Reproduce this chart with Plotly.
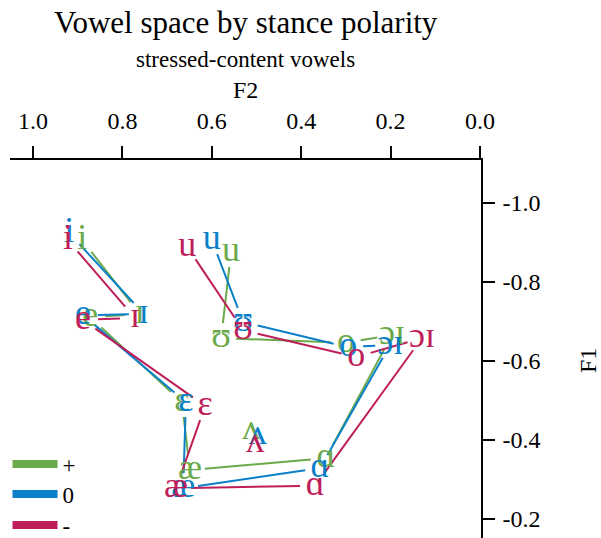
import math
import plotly.graph_objects as go

# Vowel labels and the order in which the outline connects them (ʌ stays unconnected)
vowels = ["i", "ɪ", "e", "ɛ", "æ", "ɑ", "ɔɪ", "o", "ʊ", "u", "ʌ"]
outline = ["i", "ɪ", "e", "ɛ", "æ", "ɑ", "ɔɪ", "o", "ʊ", "u"]

# Normalised formant means per stance polarity
plus_f2 = [0.890, 0.761, 0.872, 0.667, 0.649, 0.345, 0.197, 0.300, 0.579, 0.557, 0.512]
plus_f1 = [-0.906, -0.719, -0.711, -0.496, -0.324, -0.354, -0.666, -0.646, -0.658, -0.876, -0.425]

zero_f2 = [0.919, 0.752, 0.888, 0.658, 0.664, 0.358, 0.201, 0.295, 0.530, 0.600, 0.497]
zero_f1 = [-0.924, -0.719, -0.716, -0.496, -0.278, -0.329, -0.641, -0.635, -0.699, -0.906, -0.413]

minus_f2 = [0.922, 0.772, 0.888, 0.615, 0.680, 0.369, 0.130, 0.277, 0.530, 0.655, 0.503]
minus_f1 = [-0.906, -0.709, -0.704, -0.486, -0.278, -0.284, -0.658, -0.610, -0.678, -0.889, -0.392]

groups = [
    ("+", plus_f2, plus_f1, "#6BAA4B"),
    ("0", zero_f2, zero_f1, "#0A80C8"),
    ("-", minus_f2, minus_f1, "#BE1E5A"),
]

x_ticks = [1.0, 0.8, 0.6, 0.4, 0.2, 0.0]
y_ticks = [-1.0, -0.8, -0.6, -0.4, -0.2]

W, H = 601, 538
M_L, M_R, M_T, M_B = 10, 120, 160, 0
X_RANGE = [1.0515, -0.0022]
Y_RANGE = [-0.1519, -1.1089]
FONT = "Liberation Serif, Times New Roman, serif"

plot_w = W - M_L - M_R
plot_h = H - M_T - M_B
px_x = plot_w / abs(X_RANGE[0] - X_RANGE[1])
px_y = plot_h / abs(Y_RANGE[0] - Y_RANGE[1])
GAP = 15  # pixels left clear around each label


def py(pix):
    return (H - M_B - pix) / plot_h


def px(pix):
    return (pix - M_L) / plot_w


def outline_segments(f2, f1):
    pos = {v: (a, b) for v, a, b in zip(vowels, f2, f1)}
    xs, ys = [], []
    for a, b in zip(outline[:-1], outline[1:]):
        (x0, y0), (x1, y1) = pos[a], pos[b]
        length = math.hypot((x1 - x0) * px_x, (y1 - y0) * px_y)
        t = min(GAP / length, 0.45) if length > 0 else 0
        xs += [x0 + (x1 - x0) * t, x1 - (x1 - x0) * t, None]
        ys += [y0 + (y1 - y0) * t, y1 - (y1 - y0) * t, None]
    return xs, ys


fig = go.Figure()
legend_ids = ["legend", "legend2", "legend3"]
legend_rows = [464, 494, 525]

# thick legend keys, one per polarity, each in its own legend box
for (name, f2, f1, col), lid in zip(groups, legend_ids):
    fig.add_trace(go.Scatter(
        x=[None], y=[None], mode="lines", name=name, legend=lid,
        line=dict(color=col, width=8), hoverinfo="skip",
    ))
for name, f2, f1, col in groups:
    xs, ys = outline_segments(f2, f1)
    fig.add_trace(go.Scatter(
        x=xs, y=ys, mode="lines", name=name, showlegend=False,
        line=dict(color=col, width=2), hoverinfo="skip",
    ))
for name, f2, f1, col in groups:
    fig.add_trace(go.Scatter(
        x=f2, y=f1, mode="text", text=vowels, showlegend=False,
        textfont=dict(family=FONT, size=36, color=col),
    ))

axis_common = dict(
    showgrid=False, zeroline=False, showline=True, linecolor="black",
    linewidth=1.5, ticks="outside", ticklen=12, tickwidth=1.5,
    tickcolor="black", tickfont=dict(family=FONT, size=24, color="black"),
)
fig.update_xaxes(
    side="top", range=X_RANGE, tickvals=x_ticks, ticklabelstandoff=8,
    ticktext=[f"{v:.1f}" for v in x_ticks], **axis_common,
)
fig.update_yaxes(
    side="right", range=Y_RANGE, tickvals=y_ticks, ticklabelstandoff=3,
    ticktext=[f"{v:.1f}" for v in y_ticks], **axis_common,
)

annotations = [
    dict(text="Vowel space by stance polarity", x=0.5, y=py(22), size=31),
    dict(text="stressed-content vowels", x=0.5, y=py(60), size=23),
    dict(text="F2", x=0.5, y=py(90), size=24),
]
for a in annotations:
    fig.add_annotation(
        text=a["text"], xref="paper", yref="paper", x=a["x"], y=a["y"],
        xanchor="center", yanchor="middle", showarrow=False,
        font=dict(family=FONT, size=a["size"], color="black"),
    )
fig.add_annotation(
    text="F1", xref="paper", yref="paper", x=px(588), y=py(361),
    xanchor="center", yanchor="middle", showarrow=False, textangle=-90,
    font=dict(family=FONT, size=24, color="black"),
)

legend_style = dict(
    xref="container", yref="container", xanchor="left", yanchor="middle",
    x=7.5 / W, bgcolor="rgba(0,0,0,0)",
    font=dict(family=FONT, size=23, color="black"), itemwidth=45,
)
fig.update_layout(
    width=W, height=H,
    margin=dict(l=M_L, r=M_R, t=M_T, b=M_B, pad=0, autoexpand=False),
    paper_bgcolor="white", plot_bgcolor="white",
    showlegend=True,
    **{lid: dict(y=1 - row / H, **legend_style) for lid, row in zip(legend_ids, legend_rows)},
)

fig.write_html("out.html")
